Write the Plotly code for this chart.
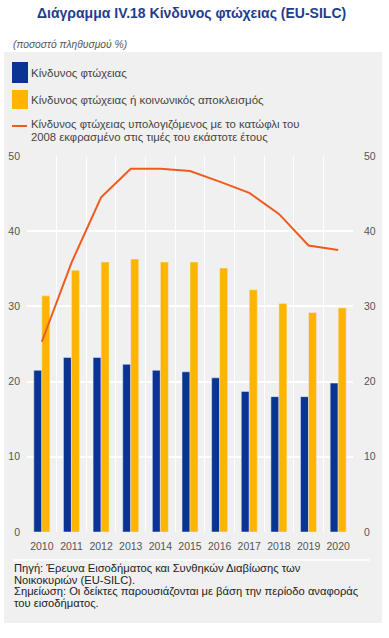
import plotly.graph_objects as go

years = [2010, 2011, 2012, 2013, 2014, 2015, 2016, 2017, 2018, 2019, 2020]
poverty = [21.5, 23.2, 23.2, 22.3, 21.5, 21.3, 20.5, 18.7, 18.0, 18.0, 19.8]
poverty_exclusion = [31.4, 34.8, 35.9, 36.3, 35.9, 35.9, 35.1, 32.2, 30.4, 29.2, 29.8]
poverty_2008 = [25.3, 35.8, 44.5, 48.3, 48.3, 48.0, 46.6, 45.1, 42.3, 38.1, 37.5]
yticks = [0, 10, 20, 30, 40, 50]

name_blue = "Κίνδυνος φτώχειας"
name_orange = "Κίνδυνος φτώχειας ή κοινωνικός αποκλεισμός"
name_line_1 = "Κίνδυνος φτώχειας υπολογιζόμενος με το κατώφλι του"
name_line_2 = "2008 εκφρασμένο στις τιμές του εκάστοτε έτους"
title = "Διάγραμμα IV.18 Κίνδυνος φτώχειας (EU-SILC)"
subtitle = "(ποσοστό πληθυσμού %)"
footnote = [
    "Πηγή: Έρευνα Εισοδήματος και Συνθηκών Διαβίωσης των",
    "Νοικοκυριών (EU-SILC).",
    "Σημείωση: Οι δείκτες παρουσιάζονται με βάση την περίοδο αναφοράς",
    "του εισοδήματος.",
]

BLUE = "#0a3494"
ORANGE = "#ffb400"
RED = "#f05a1e"
BG = "#f0f0f0"
TICK = "#555555"
FONT = "Liberation Sans, Arial, sans-serif"

fig = go.Figure()
fig.add_trace(go.Bar(x=years, y=poverty, name=name_blue, marker_color=BLUE, showlegend=False))
fig.add_trace(go.Bar(x=years, y=poverty_exclusion, name=name_orange, marker_color=ORANGE, showlegend=False))
fig.add_trace(go.Scatter(x=years, y=poverty_2008, name=name_line_1 + " " + name_line_2, mode="lines",
                         line=dict(color=RED, width=2), showlegend=False))
# invisible trace to activate the right axis
fig.add_trace(go.Scatter(x=years, y=poverty_2008, yaxis="y2", mode="lines",
                         line=dict(width=0), hoverinfo="skip", showlegend=False, opacity=0))

W, H = 389, 638
L, R, T, B = 27, 36, 156, 106
PW, PH = W - L - R, H - T - B

fig.update_layout(
    width=W, height=H,
    margin=dict(l=L, r=R, t=T, b=B, autoexpand=False),
    paper_bgcolor="white",
    plot_bgcolor=BG,
    barmode="group",
    bargap=0.46,
    bargroupgap=0,
    font=dict(family=FONT, size=10.5, color=TICK),
    xaxis=dict(
        range=[2009.5, 2020.5],
        tickmode="array", tickvals=years, ticktext=[str(y) for y in years],
        showgrid=False, zeroline=False, showline=False, ticks="",
        tickfont=dict(size=10.5, color=TICK),
        ticklabelstandoff=6,
        minor=dict(tickvals=[y + 0.5 for y in years[:-1]], showgrid=True,
                   gridcolor="white", gridwidth=1, ticks=""),
    ),
    yaxis=dict(
        range=[0, 50], tickvals=yticks, showgrid=True, gridcolor="white", gridwidth=1.5,
        zeroline=False, showline=False, ticks="", tickfont=dict(size=10.5, color=TICK),
        ticklabelstandoff=6,
    ),
    yaxis2=dict(
        range=[0, 50], tickvals=yticks, overlaying="y", side="right", showgrid=False,
        zeroline=False, showline=False, ticks="", tickfont=dict(size=10.5, color=TICK),
        ticklabelstandoff=10,
    ),
)


def px(x):
    return (x - L) / PW


def py(y):
    return (H - B - y) / PH


shapes = []
ann = []
# gray background panel
shapes.append(dict(type="rect", xref="paper", yref="paper", layer="below",
                   x0=px(4), x1=px(382), y0=py(623), y1=py(52),
                   fillcolor=BG, line=dict(width=0)))
# separator line above footnote
shapes.append(dict(type="line", xref="paper", yref="paper", x0=px(13), x1=px(370),
                   y0=py(560), y1=py(560), line=dict(color="white", width=1.5)))

# legend swatches
shapes.append(dict(type="rect", xref="paper", yref="paper", x0=px(12), x1=px(28),
                   y0=py(83), y1=py(62), fillcolor=BLUE, line=dict(width=0)))
shapes.append(dict(type="rect", xref="paper", yref="paper", x0=px(12), x1=px(28),
                   y0=py(109), y1=py(90), fillcolor=ORANGE, line=dict(width=0)))
shapes.append(dict(type="line", xref="paper", yref="paper", x0=px(12), x1=px(27),
                   y0=py(126), y1=py(126), line=dict(color=RED, width=2)))


def text(x, y, s, size=11.5, color="#444444", anchor="left"):
    ann.append(dict(xref="paper", yref="paper", x=px(x), y=py(y), text=s, showarrow=False,
                    xanchor=anchor, yanchor="middle", align="left",
                    font=dict(family=FONT, size=size, color=color)))


text(29, 73, name_blue)
text(29, 100, name_orange)
text(29, 124, name_line_1, size=11.3)
text(29, 137, name_line_2, size=11.3)

# title and subtitle
text(191, 13, "<b>" + title + "</b>", size=14, color="#1f3c8f", anchor="center")
text(11, 45, "<i>" + subtitle + "</i>", size=10.3, color=TICK)

# footnote
for i, line in enumerate(footnote):
    text(12, 568 + i * 11.6, line, size=11.2, color="#222222")

fig.update_layout(shapes=shapes, annotations=ann)
fig.write_html("out.html", config={"displayModeBar": False},
               post_script="document.body.style.margin='0';document.body.style.overflow='hidden';")
